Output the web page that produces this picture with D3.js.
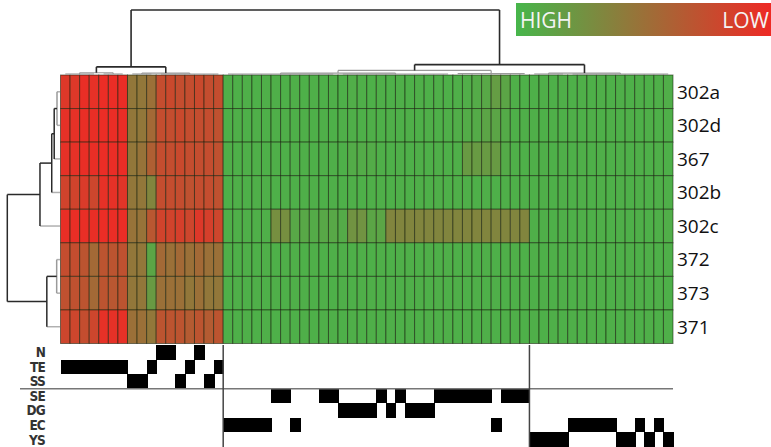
<!DOCTYPE html>
<html><head><meta charset="utf-8">
<script src="https://cdn.jsdelivr.net/npm/d3@7"></script>
<style>html,body{margin:0;padding:0;background:#fff;}svg{display:block;}</style>
</head><body>
<svg id="chart" width="771" height="447"></svg>
<script>
// ---------- DATA ----------
const rowLabels = ["302a","302d","367","302b","302c","372","373","371"];
const columnIds = d3.range(64);

const v302a = [0.90,0.90,0.97,0.95,0.98,0.98,0.98, 0.45,0.45,0.50, 0.75,0.78,0.75,0.75,0.78,0.75,0.75,
  0.05,0.04,0.05,0.04,0.05,0.05,0.04,0.05,0.04,0.05, 0.04,0.05,0.04,0.06,0.05,0.04,0.05,0.04,0.05,0.04,
  0.05,0.04,0.05,0.04,0.05,0.06,0.08,0.10,0.18,0.12, 0.05,0.04,0.04,0.05,0.04,0.05,0.04,0.05,0.04,0.05,
  0.04,0.05,0.04,0.05,0.04,0.05,0.06];
const v302d = [0.95,0.95,0.97,0.97,0.98,0.98,0.98, 0.45,0.45,0.55, 0.75,0.75,0.78,0.75,0.75,0.75,0.72,
  0.04,0.05,0.04,0.05,0.04,0.05,0.05,0.04,0.05,0.04, 0.05,0.04,0.05,0.05,0.04,0.05,0.04,0.05,0.04,0.05,
  0.04,0.05,0.04,0.05,0.06,0.07,0.08,0.12,0.12,0.08, 0.04,0.05,0.05,0.04,0.05,0.04,0.05,0.04,0.05,0.04,
  0.05,0.04,0.05,0.04,0.05,0.04,0.05];
const v367 = [0.95,0.95,0.97,0.97,0.98,0.98,0.98, 0.45,0.48,0.62, 0.75,0.75,0.78,0.75,0.75,0.75,0.72,
  0.05,0.04,0.05,0.05,0.04,0.05,0.04,0.05,0.05,0.04, 0.05,0.05,0.04,0.07,0.07,0.07,0.05,0.04,0.05,0.04,
  0.05,0.04,0.05,0.04,0.05,0.20,0.20,0.20,0.20,0.08, 0.05,0.04,0.05,0.05,0.04,0.05,0.04,0.05,0.04,0.05,
  0.04,0.05,0.04,0.05,0.04,0.05,0.04];
const v302b = [0.82,0.82,0.88,0.80,0.95,0.95,0.92, 0.45,0.45,0.35, 0.75,0.75,0.75,0.72,0.75,0.75,0.72,
  0.04,0.05,0.04,0.05,0.05,0.04,0.05,0.04,0.05,0.05, 0.04,0.05,0.04,0.05,0.04,0.05,0.05,0.04,0.05,0.04,
  0.05,0.04,0.05,0.04,0.05,0.05,0.04,0.05,0.04,0.05, 0.04,0.05,0.04,0.05,0.04,0.05,0.04,0.05,0.04,0.05,
  0.04,0.05,0.04,0.05,0.04,0.05,0.05];
const v302c = [0.97,0.97,0.97,0.97,0.98,0.98,0.98, 0.48,0.48,0.68, 0.82,0.82,0.85,0.80,0.90,0.85,0.80,
  0.05,0.05,0.05,0.05,0.05,0.28,0.28,0.10,0.10,0.08, 0.10,0.10,0.08,0.25,0.25,0.12,0.12,0.35,0.35,0.35,
  0.35,0.35,0.35,0.35,0.35,0.35,0.35,0.35,0.35,0.35, 0.35,0.35,0.05,0.05,0.04,0.05,0.04,0.05,0.04,0.05,
  0.04,0.05,0.04,0.05,0.04,0.05,0.06];
const v372 = [0.75,0.75,0.70,0.55,0.70,0.70,0.72, 0.45,0.45,0.12, 0.55,0.50,0.55,0.50,0.55,0.50,0.50,
  0.05,0.04,0.05,0.04,0.05,0.04,0.05,0.05,0.04,0.05, 0.04,0.05,0.05,0.04,0.05,0.04,0.05,0.04,0.05,0.05,
  0.04,0.05,0.04,0.05,0.04,0.05,0.04,0.05,0.04,0.05, 0.05,0.04,0.05,0.04,0.05,0.04,0.05,0.04,0.05,0.04,
  0.05,0.04,0.05,0.04,0.05,0.04,0.05];
const v373 = [0.72,0.72,0.70,0.55,0.70,0.68,0.70, 0.45,0.45,0.20, 0.50,0.50,0.50,0.45,0.50,0.45,0.45,
  0.04,0.05,0.04,0.05,0.04,0.05,0.04,0.05,0.05,0.04, 0.05,0.04,0.05,0.04,0.05,0.05,0.04,0.05,0.04,0.05,
  0.05,0.04,0.05,0.04,0.05,0.04,0.05,0.04,0.05,0.04, 0.04,0.05,0.04,0.05,0.04,0.05,0.04,0.05,0.04,0.05,
  0.04,0.05,0.04,0.05,0.04,0.05,0.04];
const v371 = [0.80,0.80,0.75,0.80,0.95,0.95,0.95, 0.50,0.50,0.45, 0.70,0.70,0.70,0.65,0.70,0.65,0.70,
  0.05,0.04,0.05,0.04,0.05,0.04,0.05,0.04,0.05,0.04, 0.05,0.05,0.04,0.05,0.04,0.05,0.04,0.05,0.04,0.05,
  0.04,0.05,0.04,0.05,0.04,0.05,0.04,0.05,0.04,0.05, 0.05,0.04,0.05,0.04,0.05,0.04,0.05,0.04,0.05,0.04,
  0.05,0.04,0.05,0.04,0.05,0.04,0.05];
const matrix = [v302a, v302d, v367, v302b, v302c, v372, v373, v371];

const annoRows = ["N","TE","SS","SE","DG","EC","YS"];
const columnClass = [
  "TE","TE","TE","TE","TE","TE","TE","SS","SS","TE","N","N","SS","TE","N","SS","TE",
  "EC","EC","EC","EC","EC","SE","SE","EC","","","SE","SE","DG","DG","DG","DG","SE","DG","SE",
  "DG","DG","DG","SE","SE","SE","SE","SE","SE","EC","SE","SE","SE",
  "YS","YS","YS","YS","EC","EC","EC","EC","EC","YS","YS","EC","YS","EC","YS"];

const colTree = {h:1, c:[
  {h:0.125, c:[
    {h:0.035, c:[{h:0.015, c:[0,1,2,3]}, {h:0.015, c:[4,5,6]}]},
    {h:0.03, c:[{h:0.015, c:[7,8,9]}, {h:0.015, c:[10,11,12,13,14,15,16]}]}
  ]},
  {h:0.16, c:[
    {h:0.07, c:[
      {h:0.03, c:[{h:0.015, c:[17,18,19,20,21,22,23,24,25,26,27,28]}, {h:0.015, c:[29,30,31,32,33,34,35,36,37,38,39,40]}]},
      {h:0.02, c:[41,42,43,44,45,46,47,48]}
    ]},
    {h:0.03, c:[{h:0.015, c:[49,50,51,52]}, {h:0.015, c:[53,54,55,56,57,58,59,60,61,62,63]}]}
  ]}
]};

const rowTree = {h:1, c:[
  {h:0.38, c:[
    {h:0.157, c:[
      {h:0.11, c:[{h:0.057, c:["302a","302d"]}, "367"]},
      "302b"]},
    "302c"]},
  {h:0.25, c:[{h:0.063, c:["372","373"]}, "371"]}
]};

const legendLabels = ["HIGH","LOW"];

// ---------- SCALES ----------
const svg = d3.select("#chart");
const x = d3.scaleBand().domain(columnIds).range([60.5, 673]);
const y = d3.scaleBand().domain(rowLabels).range([75, 343.5]);
const ya = d3.scaleBand().domain(annoRows).range([345, 447]);
const greenC = "#47b64b", redC = "#ee2a25";
const color = d3.scaleLinear().domain([0,1]).range([greenC, redC]).interpolate(d3.interpolateRgb);
const yD = d3.scaleLinear().domain([0,1]).range([75, 10]);   // column dendrogram height
const xD = d3.scaleLinear().domain([0,1]).range([60, 7.3]);  // row dendrogram height

// ---------- HEATMAP ----------
const cells = [];
matrix.forEach((row, r) => row.forEach((v, c) => cells.push({r: rowLabels[r], c, v})));
svg.append("g").selectAll("rect").data(cells).join("rect")
  .attr("x", d => x(d.c)).attr("y", d => y(d.r))
  .attr("width", x.bandwidth()).attr("height", y.bandwidth())
  .attr("fill", d => color(d.v))
  .attr("stroke", "rgba(20,30,10,0.55)").attr("stroke-width", 1);

// row labels
svg.append("g").selectAll("text").data(rowLabels).join("text")
  .attr("x", 677).attr("y", d => y(d) + y.bandwidth()/2)
  .attr("dy", "0.36em")
  .attr("font-family", "'Open Sans', 'Liberation Sans', sans-serif")
  .attr("font-size", 19).attr("fill", "#111")
  .text(d => d);

// ---------- ANNOTATION ----------
svg.append("g").attr("shape-rendering", "crispEdges")
  .selectAll("rect").data(columnIds.filter(c => columnClass[c] !== "")).join("rect")
  .attr("x", c => x(c)).attr("y", c => ya(columnClass[c]))
  .attr("width", x.bandwidth() + 1).attr("height", ya.bandwidth())
  .attr("fill", "#000");

svg.append("g").selectAll("text").data(annoRows).join("text")
  .attr("x", 45).attr("y", d => ya(d) + ya.bandwidth()/2)
  .attr("dy", "0.36em").attr("text-anchor", "end")
  .attr("font-family", "'DejaVu Sans Condensed', 'Liberation Sans Narrow', sans-serif")
  .attr("font-size", 13.5).attr("font-weight", "bold").attr("fill", "#333")
  .attr("letter-spacing", "-0.8")
  .text(d => d);

// separator lines
svg.append("line").attr("x1", 20).attr("x2", 673).attr("y1", ya("SE")).attr("y2", ya("SE"))
  .attr("stroke", "#777").attr("stroke-width", 1.5);
[17, 49].forEach(c => {
  svg.append("line").attr("x1", x(c)).attr("x2", x(c)).attr("y1", 345).attr("y2", 447)
    .attr("stroke", "#444").attr("stroke-width", 1.5);
});

// ---------- DENDROGRAMS ----------
const gD = svg.append("g").attr("fill", "none");
function strokeFor(h, leaf) { return leaf ? "#b0b0b0" : (h >= 0.1 ? "#2a2a2a" : "#9a9a9a"); }

function drawCol(node) {
  if (typeof node === "number") return {p: x(node) + x.bandwidth()/2, h: 0, leaf: true};
  const ch = node.c.map(drawCol);
  const col = strokeFor(node.h, false);
  const yy = yD(node.h);
  ch.forEach(k => {
    if (!k.leaf) gD.append("line").attr("x1", k.p).attr("x2", k.p).attr("y1", yD(k.h)).attr("y2", yy)
      .attr("stroke", col).attr("stroke-width", node.h >= 0.1 ? 1.6 : 1.2);
  });
  gD.append("line").attr("x1", ch[0].p).attr("x2", ch[ch.length-1].p).attr("y1", yy).attr("y2", yy)
    .attr("stroke", col).attr("stroke-width", node.h >= 0.1 ? 1.6 : 1.2);
  return {p: (ch[0].p + ch[ch.length-1].p)/2, h: node.h, leaf: false};
}
drawCol(colTree);

function drawRow(node) {
  if (typeof node === "string") return {p: y(node) + y.bandwidth()/2, h: 0, leaf: true};
  const ch = node.c.map(drawRow);
  const col = strokeFor(node.h, false);
  const xx = xD(node.h);
  ch.forEach(k => {
    gD.append("line").attr("y1", k.p).attr("y2", k.p).attr("x1", xD(k.h)).attr("x2", xx)
      .attr("stroke", k.leaf ? strokeFor(0, true) : col).attr("stroke-width", 1.5);
  });
  gD.append("line").attr("y1", ch[0].p).attr("y2", ch[ch.length-1].p).attr("x1", xx).attr("x2", xx)
    .attr("stroke", col).attr("stroke-width", 1.5);
  return {p: (ch[0].p + ch[ch.length-1].p)/2, h: node.h, leaf: false};
}
drawRow(rowTree);

// ---------- LEGEND ----------
const defs = svg.append("defs");
const grad = defs.append("linearGradient").attr("id", "lg");
grad.selectAll("stop").data([0, 0.25, 0.5, 0.75, 1]).join("stop")
  .attr("offset", d => d*100 + "%").attr("stop-color", d => color(d));
svg.append("rect").attr("x", 516).attr("y", 3).attr("width", 255).attr("height", 33).attr("fill", "url(#lg)");
svg.append("text").attr("x", 520).attr("y", 28).attr("font-family", "'Open Sans', sans-serif")
  .attr("font-size", 21).attr("fill", "#f4f4f4").text(legendLabels[0]);
svg.append("text").attr("x", 769).attr("y", 28).attr("text-anchor", "end").attr("font-family", "'Open Sans', sans-serif")
  .attr("font-size", 21).attr("fill", "#f4f4f4").text(legendLabels[1]);
</script>
</body></html>
